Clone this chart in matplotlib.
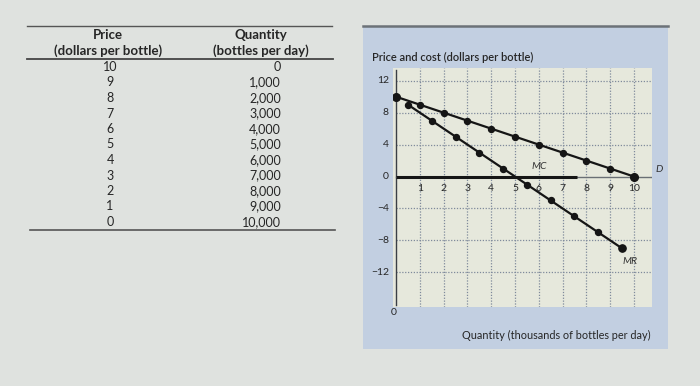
import numpy as np
import matplotlib.pyplot as plt
from matplotlib.patches import Rectangle
plt.switch_backend('Agg')

plt.rcParams['font.family'] = ['Lato', 'DejaVu Sans']

## table data
price = [10, 9, 8, 7, 6, 5, 4, 3, 2, 1, 0]
quantity = ['0', '1,000', '2,000', '3,000', '4,000', '5,000',
            '6,000', '7,000', '8,000', '9,000', '10,000']

## chart data (quantity in thousands)
d_q = [0, 1, 2, 3, 4, 5, 6, 7, 8, 9, 10]
d_p = [10, 9, 8, 7, 6, 5, 4, 3, 2, 1, 0]
mr_q = [0.5, 1.5, 2.5, 3.5, 4.5, 5.5, 6.5, 7.5, 8.5, 9.5]
mr_v = [9, 7, 5, 3, 1, -1, -3, -5, -7, -9]
mc_q = [0, 7.6]
mc_v = [0, 0]
yticks = [12, 8, 4, 0, -4, -8, -12]
ytick_labels = ['12', '8', '4', '0', '\u22124', '\u22128', '\u221212']
xticks = [1, 2, 3, 4, 5, 6, 7, 8, 9, 10]

W, H = 700, 386
bg = '#dfe2df'
panel = '#c2cfe1'
plotbg = '#e6e8dc'
ink = '#262626'

fig = plt.figure(figsize=(W / 100, H / 100), dpi=100)
fig.patch.set_facecolor(bg)


def fx(px):
    return px / W


def fy(py):
    return 1 - py / H


## table on the left
fig.add_artist(plt.Line2D([fx(27), fx(332)], [fy(26), fy(26)], color='#555', lw=1.0))
fig.add_artist(plt.Line2D([fx(27), fx(333)], [fy(59), fy(59)], color='#444', lw=1.3))
fig.add_artist(plt.Line2D([fx(30), fx(335)], [fy(230), fy(230)], color='#555', lw=1.2))
fig.text(fx(108), fy(35), 'Price', ha='center', va='center',
         fontsize=9.5, fontweight='bold', color=ink)
fig.text(fx(108), fy(51), '(dollars per bottle)', ha='center', va='center',
         fontsize=9.5, fontweight='bold', color=ink)
fig.text(fx(261), fy(35), 'Quantity', ha='center', va='center',
         fontsize=9.5, fontweight='bold', color=ink)
fig.text(fx(261), fy(51), '(bottles per day)', ha='center', va='center',
         fontsize=9.5, fontweight='bold', color=ink)
for i, (p, q) in enumerate(zip(price, quantity)):
    y = 67 + 15.5 * i
    fig.text(fx(110), fy(y), str(p), ha='center', va='center',
             fontsize=9, color=ink)
    fig.text(fx(281), fy(y), q, ha='right', va='center',
             fontsize=9, color=ink)

## blue panel behind the chart
fig.add_artist(Rectangle((fx(363), fy(349)), fx(668) - fx(363), fy(27) - fy(349),
                         transform=fig.transFigure, facecolor=panel,
                         edgecolor='none', zorder=0))
fig.add_artist(plt.Line2D([fx(363), fx(668)], [fy(26), fy(26)], color='#6c7278', lw=1.8))
fig.text(fx(372), fy(57), 'Price and cost (dollars per bottle)', ha='left',
         va='center', fontsize=8, fontweight='semibold', color=ink)
fig.text(fx(556), fy(335), 'Quantity (thousands of bottles per day)',
         ha='center', va='center', fontsize=7.8, color=ink)

## chart axes
ax = fig.add_axes([fx(393), fy(307), fx(652) - fx(393), fy(68) - fy(307)])
ax.set_facecolor(plotbg)
ax.set_xlim(-0.13, 10.76)
ax.set_ylim(-16.35, 13.6)
for s in ax.spines.values():
    s.set_visible(False)
ax.set_xticks([])
ax.set_yticks([])

# dotted grid
for x in xticks:
    ax.axvline(x, color='#7f8a9c', lw=0.9, ls=(0, (1, 1.3)), zorder=1)
for y in yticks:
    if y != 0:
        ax.plot([0, 10.76], [y, y], color='#7f8a9c', lw=0.9,
                ls=(0, (1, 1.3)), zorder=1)

# axes lines
ax.plot([0, 0], [-16.1, 13.4], color='#3a3f46', lw=1.0, zorder=2)
ax.plot([0, 10.7], [0, 0], color='#6a6f75', lw=1.0, zorder=2)

# tick labels
for y, lab in zip(yticks, ytick_labels):
    ax.text(-0.3, y, lab, ha='right', va='center', fontsize=7.5,
            color=ink, clip_on=False)
for x in xticks:
    ax.text(x, -1.5, str(x), ha='center', va='center', fontsize=7.5, color=ink)
ax.text(-0.1, -17.1, '0', ha='center', va='center', fontsize=7.5,
        color=ink, clip_on=False)

# curves
ax.plot(mc_q, mc_v, color='#151515', lw=2.2, zorder=3, solid_capstyle='butt')
ax.plot(d_q, d_p, color='#151515', lw=1.6, marker='o', ms=4.3, zorder=4)
ax.plot([d_q[0], d_q[-1]], [d_p[0], d_p[-1]], ls='none', marker='o',
        ms=5.5, color='#151515', zorder=5)
ax.plot(mr_q, mr_v, color='#151515', lw=1.6, marker='o', ms=4.3, zorder=4)
ax.plot(mr_q[-1], mr_v[-1], marker='o', ms=5.2, color='#151515', zorder=5)

# curve labels
ax.text(6.0, 1.3, 'MC', fontsize=7.5, style='italic', ha='center',
        va='center', color='#333')
ax.text(11.05, 0.9, 'D', fontsize=7.5, style='italic', ha='center',
        va='center', color='#333', clip_on=False)
ax.text(9.85, -10.6, 'MR', fontsize=7.5, style='italic', ha='center',
        va='center', color='#333')

plt.savefig('out.png', dpi=100, facecolor=fig.get_facecolor())
plt.close('all')
